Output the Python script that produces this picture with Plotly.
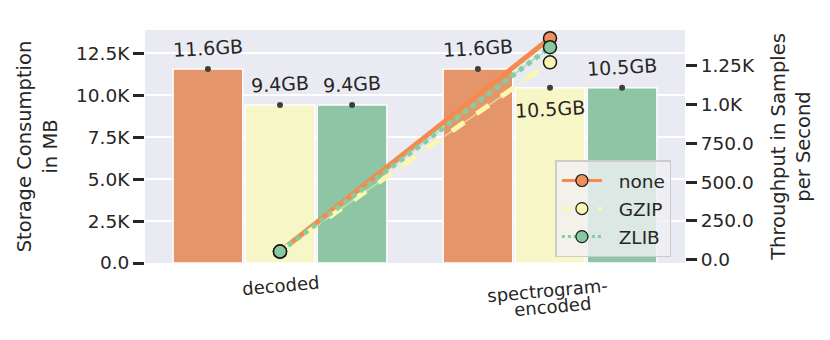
import plotly.graph_objects as go

categories = ["decoded", "spectrogram-encoded"]
tick_labels = [["decoded"], ["spectrogram-", "encoded"]]
compressions = ["none", "GZIP", "ZLIB"]
storage_mb = {"none": [11560, 11560], "GZIP": [9420, 10450], "ZLIB": [9420, 10450]}
storage_labels = {"none": ["11.6GB", "11.6GB"], "GZIP": ["9.4GB", "10.5GB"], "ZLIB": ["9.4GB", "10.5GB"]}
throughput = {"none": [53, 1426], "GZIP": [53, 1271], "ZLIB": [53, 1368]}

bar_colors = {"none": "#E5956A", "GZIP": "#F7F6C6", "ZLIB": "#8EC6A5"}
line_colors = {"none": "#F58A4E", "GZIP": "#FCF7AE", "ZLIB": "#86CDA2"}
marker_colors = {"none": "#EE8F5C", "GZIP": "#FBF6B2", "ZLIB": "#86CB9F"}
dashes = {"none": "solid", "GZIP": "dash", "ZLIB": "dot"}
offsets = {"none": -0.267, "GZIP": 0.0, "ZLIB": 0.267}
label_shift = {("GZIP", 1): -21}

xpos = list(range(len(categories)))
fig = go.Figure()
font_color = "#262626"

for c in compressions:
    xs = [x + offsets[c] for x in xpos]
    fig.add_trace(go.Bar(x=xs, y=storage_mb[c], width=0.258, marker_color=bar_colors[c],
                         marker_line_color="white", marker_line_width=1.5,
                         showlegend=False, yaxis="y"))
    fig.add_trace(go.Scatter(x=xs, y=storage_mb[c], mode="markers",
                             marker=dict(color="#3f3f3f", size=6), showlegend=False, yaxis="y"))
    for i, (xv, yv) in enumerate(zip(xs, storage_mb[c])):
        fig.add_annotation(x=xv, y=yv, xref="x", yref="y", text=storage_labels[c][i],
                           showarrow=False, yshift=label_shift.get((c, i), 21), textangle=-3,
                           font=dict(size=19, color=font_color))

# x tick labels (rotated, centred)
for xv, lines in zip(xpos, tick_labels):
    first = 22 if len(lines) == 1 else 27
    for j, line in enumerate(lines):
        fig.add_annotation(x=xv, y=0, xref="x", yref="paper", text=line, showarrow=False,
                           yanchor="middle", yshift=-(first + 16 * j), xshift=-3 + 5 * j if len(lines) > 1 else 0,
                           textangle=-5, font=dict(size=18, color=font_color))

for c in compressions:
    fig.add_trace(go.Scatter(x=xpos, y=throughput[c], mode="lines", yaxis="y2",
                             line=dict(color=line_colors[c], width=1.5), opacity=0.6,
                             showlegend=False, hoverinfo="skip"))
for c in compressions:
    fig.add_trace(go.Scatter(x=xpos, y=throughput[c], mode="lines", yaxis="y2",
                             line=dict(color=line_colors[c], width=5, dash=dashes[c]),
                             showlegend=False))
for c in compressions:
    fig.add_trace(go.Scatter(x=xpos, y=throughput[c], mode="markers", yaxis="y2",
                             marker=dict(color=marker_colors[c], size=13,
                                         line=dict(color="#1a1a1a", width=1.5)),
                             showlegend=False))
for c in compressions:
    fig.add_trace(go.Scatter(x=[None], y=[None], mode="lines+markers", yaxis="y2",
                             name="\u00a0\u00a0" + c, legendgroup=c,
                             line=dict(color=line_colors[c], width=3, dash=dashes[c]),
                             marker=dict(color=marker_colors[c], size=12,
                                         line=dict(color="#1a1a1a", width=1.2))))

fig.update_layout(
    width=830, height=340,
    margin=dict(l=137, r=153, t=22, b=85),
    paper_bgcolor="white", plot_bgcolor="#EAEAF2",
    font=dict(family="DejaVu Sans", size=18, color=font_color),
    barmode="overlay",
    xaxis=dict(range=[-0.5, 1.5], showticklabels=False, showgrid=False, zeroline=False, ticks=""),
    yaxis=dict(range=[0, 13890], tickmode="array",
               tickvals=[0, 2500, 5000, 7500, 10000, 12500],
               ticktext=["0.0", "2.5K", "5.0K", "7.5K", "10.0K", "12.5K"],
               gridcolor="white", gridwidth=1.5, zeroline=False,
               ticks="outside", ticklen=11, tickwidth=2.5, tickcolor=font_color,
               tickfont=dict(size=18.5),
               title=dict(text="Storage Consumption<br>in MB", font=dict(size=19.5), standoff=13)),
    yaxis2=dict(range=[-21, 1479], overlaying="y", side="right", tickmode="array",
                tickvals=[0, 250, 500, 750, 1000, 1250],
                ticktext=["0.0", "250.0", "500.0", "750.0", "1.0K", "1.25K"],
                showgrid=False, zeroline=False,
                ticks="outside", ticklen=11, tickwidth=2.5, tickcolor=font_color,
                tickfont=dict(size=18.5),
                title=dict(text="Throughput in Samples<br>per Second", font=dict(size=19.5), standoff=17)),
    legend=dict(x=0.76, y=0.44, xanchor="left", yanchor="top",
                bgcolor="rgba(240,240,242,0.8)", bordercolor="#CCCCCC", borderwidth=1.5,
                font=dict(size=18.5), traceorder="grouped", tracegroupgap=1, itemwidth=40),
)

fig.write_html("out.html")
